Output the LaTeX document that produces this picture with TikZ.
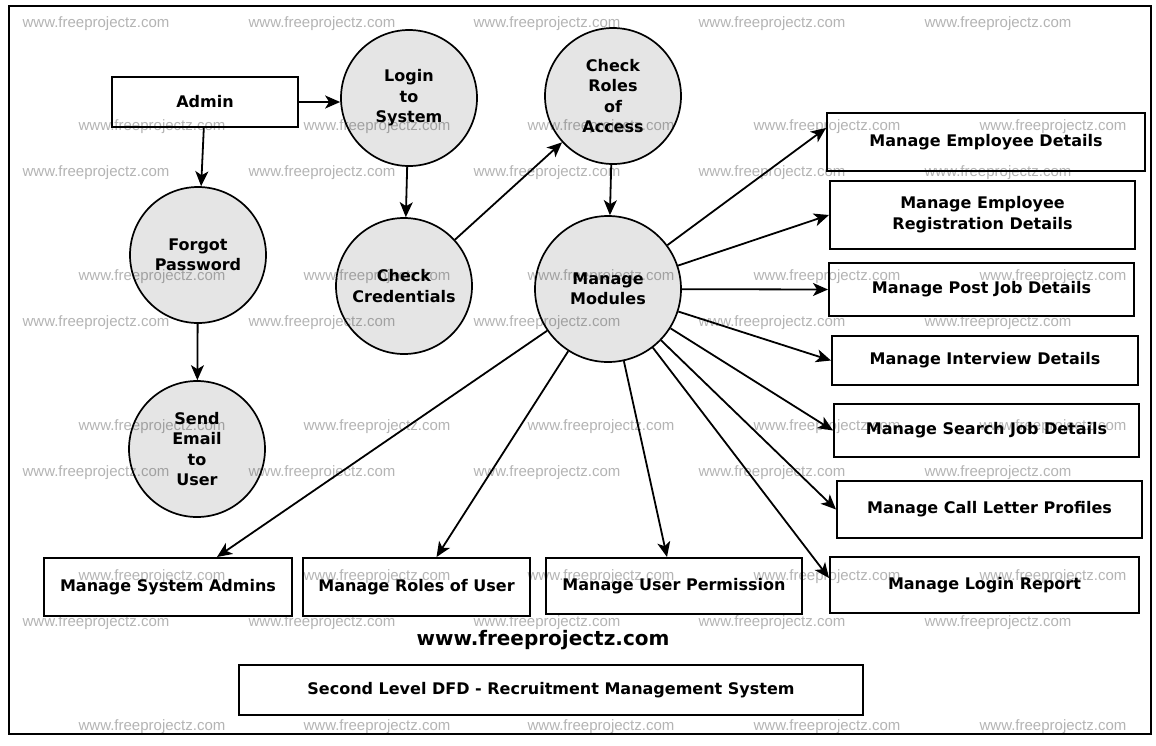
\documentclass[tikz,border=0pt]{standalone}
\usepackage{fontspec}
\setmainfont{DejaVu Sans}
\newfontfamily\wmfont{Liberation Sans}
\usetikzlibrary{arrows.meta,calc}
\definecolor{procfill}{RGB}{229,229,229}
\definecolor{wmgray}{RGB}{180,180,180}
\begin{document}
\begin{tikzpicture}[x=1pt,y=-1pt,
  proc/.style={circle,draw,line width=1.7pt,fill=procfill,minimum size=136pt,inner sep=0pt,align=center,font=\bfseries\fontsize{16}{20.5}\selectfont},
  ent/.style={rectangle,draw,line width=2pt,fill=white,inner sep=0pt,align=center,font=\bfseries\fontsize{16}{21}\selectfont},
  flow/.style={line width=1.8pt,-{Stealth[length=15pt,width=13pt,inset=4pt]}},
  wm/.style={text=wmgray,font=\wmfont\fontsize{15}{15}\selectfont,inner sep=0pt},
  frameline/.style={line width=2pt}
]
\useasboundingbox (0,0) rectangle (1156,745);
\fill[white] (0,0) rectangle (1156,745);
\draw[frameline] (9,6) rectangle (1151,734);

% processes
\node[proc] (login) at (409,98) {Login\\to\\System};
\node[proc] (roles) at (613,96) {Check\\Roles\\of\\Access};
\node[proc] (forgot) at (198,255) {Forgot\\Password};
\node[proc] (cred) at (404,286) {Check\\Credentials};
\node[proc,minimum size=146pt] (mm) at (608,289) {Manage\\Modules};
\node[proc] (send) at (197,449) {Send\\Email\\to\\User};

% entities
\node[ent,minimum width=186pt,minimum height=50pt] (admin) at (205,102) {Admin};
\node[ent,minimum width=318pt,minimum height=58pt] (ed) at (986,142) {Manage Employee Details};
\node[ent,minimum width=305pt,minimum height=68pt] (erd) at (982.5,215) {Manage Employee\\Registration Details};
\node[ent,minimum width=305pt,minimum height=53pt] (pjd) at (981.5,289.5) {Manage Post Job Details};
\node[ent,minimum width=306pt,minimum height=49pt] (idt) at (985,360.5) {Manage Interview Details};
\node[ent,minimum width=305pt,minimum height=53pt] (sjd) at (986.5,430.5) {Manage Search Job Details};
\node[ent,minimum width=305pt,minimum height=57pt] (clp) at (989.5,509.5) {Manage Call Letter Profiles};
\node[ent,minimum width=309pt,minimum height=56pt] (lr) at (984.5,585) {Manage Login Report};
\node[ent,minimum width=256pt,minimum height=56pt] (up) at (674,586) {Manage User Permission};
\node[ent,minimum width=227pt,minimum height=58pt] (ru) at (416.5,587) {Manage Roles of User};
\node[ent,minimum width=248pt,minimum height=58pt] (sa) at (168,587) {Manage System Admins};
\node[font=\bfseries\fontsize{20}{24}\selectfont,inner sep=0pt] (site) at (543,640) {www.freeprojectz.com};
\node[ent,minimum width=624pt,minimum height=50pt] (title) at (551,690) {Second Level DFD - Recruitment Management System};

% flows
\draw[flow] (admin.east) -- (admin.east -| login.west);
\draw[flow] (admin) -- (forgot);
\draw[flow] (forgot) -- (send);
\draw[flow] (login) -- (cred);
\draw[flow] (cred) -- (roles);
\draw[flow] (roles) -- (mm);
\draw[flow] (mm) -- ([yshift=14pt]ed.west);
\draw[flow] (mm) -- (erd.west);
\draw[flow] (mm) -- (pjd.west);
\draw[flow] (mm) -- (idt.west);
\draw[flow] (mm) -- (sjd.west);
\draw[flow] (mm) -- (clp.west);
\draw[flow] (mm) -- ([yshift=7pt]lr.west);
\draw[flow] (mm) -- ([xshift=-7pt]up.north);
\draw[flow] (mm) -- ([xshift=20pt]ru.north);
\draw[flow] (mm) -- ([xshift=49pt]sa.north);

% watermarks
\begin{scope}[blend mode=multiply]
\foreach \yy in {24,173,323,473,623}
  \foreach \xx [count=\i] in {96,322,547,772,998}
    \node[wm] (wa\i-\yy) at (\xx,\yy) {www.freeprojectz.com};
\foreach \yy in {127,277,427,577,727}
  \foreach \xx [count=\i] in {152,377,601,827,1053}
    \node[wm] (wb\i-\yy) at (\xx,\yy) {www.freeprojectz.com};
\end{scope}
\end{tikzpicture}
\end{document}
